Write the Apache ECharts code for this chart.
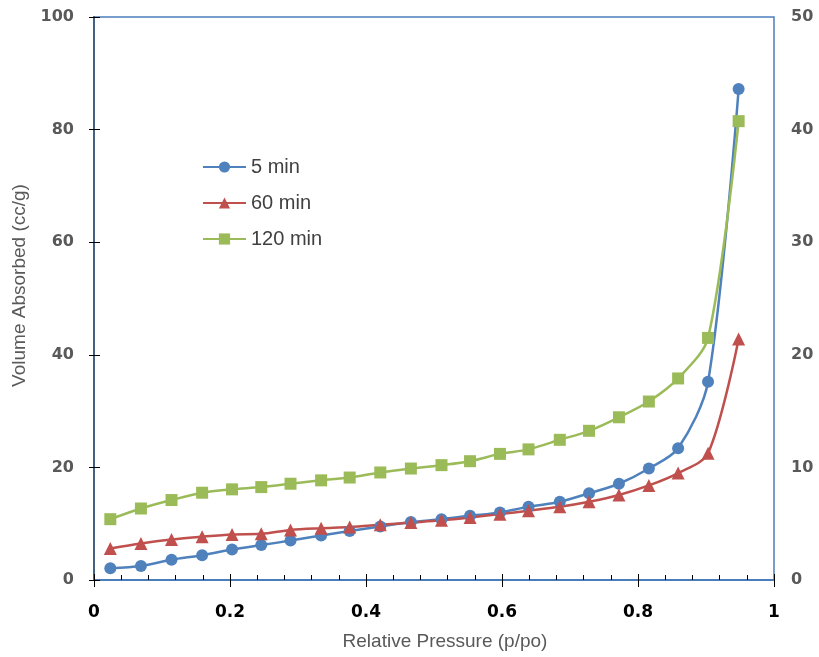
<!DOCTYPE html>
<html>
<head>
<meta charset="utf-8">
<script src="https://cdn.jsdelivr.net/npm/echarts@6/dist/echarts.min.js"></script>
<style>
  html, body { margin: 0; padding: 0; background: #fff; }
  #chart { width: 819px; height: 657px; }
</style>
</head>
<body>
<div id="chart"></div>
<script>
// relative pressure (p/po), shared by all three runs
const pressure = [0.024, 0.069, 0.114, 0.159, 0.203, 0.246, 0.289, 0.334, 0.376, 0.421, 0.466,
  0.511, 0.553, 0.597, 0.639, 0.685, 0.728, 0.772, 0.816, 0.859, 0.903, 0.948]

// volume absorbed (cc/g)
const min5 = [2.1, 2.5, 3.6, 4.4, 5.4, 6.2, 7.0, 7.9, 8.7, 9.5, 10.3,
  10.8, 11.4, 12.0, 13.0, 13.9, 15.4, 17.1, 19.8, 23.4, 35.2, 87.2]
const min60 = [5.6, 6.5, 7.2, 7.7, 8.1, 8.2, 8.9, 9.2, 9.4, 9.8, 10.2,
  10.6, 11.1, 11.7, 12.3, 13.0, 13.9, 15.1, 16.8, 19.0, 22.5, 42.8]
const min120 = [10.8, 12.7, 14.2, 15.5, 16.1, 16.5, 17.1, 17.7, 18.2, 19.1, 19.8,
  20.4, 21.1, 22.4, 23.2, 24.9, 26.5, 28.9, 31.7, 35.8, 43.0, 81.5]

const seriesNames = ['5 min', '60 min', '120 min']

const pairs = (ys) => pressure.map((x, i) => [x, ys[i]])

const chart = echarts.init(document.getElementById('chart'))

const labelStyle = { color: '#595959', fontSize: 16, fontWeight: 'bold', fontFamily: 'DejaVu Sans' }
const nameStyle = { color: '#595959', fontSize: 19, fontFamily: 'Liberation Sans' }

const mkSeries = (name, ys, color, symbol, size) => ({
  name,
  type: 'line',
  data: pairs(ys),
  smooth: 0.3,
  symbol,
  symbolSize: size,
  showSymbol: true,
  lineStyle: { color, width: 2.5 },
  itemStyle: { color },
  emphasis: { disabled: true },
  z: 3,
})

chart.setOption({
  animation: false,
  backgroundColor: '#fff',
  grid: { left: 94, right: 45, top: 17, bottom: 77, show: true, borderColor: '#4a7ebb', borderWidth: 1.5 },
  legend: {
    orient: 'vertical',
    left: 197,
    top: 152,
    itemGap: 16,
    itemWidth: 43,
    itemHeight: 14,
    textStyle: { color: '#404040', fontSize: 20, fontFamily: 'Liberation Sans' },
    data: seriesNames,
  },
  xAxis: [
    {
      type: 'value',
      min: 0,
      max: 1,
      interval: 0.2,
      position: 'bottom',
      name: 'Relative Pressure (p/po)',
      nameLocation: 'middle',
      nameGap: 52,
      nameTextStyle: { ...nameStyle, padding: [0, 0, 0, 22] },
      axisLine: { lineStyle: { color: '#4a7ebb', width: 2 } },
      axisTick: { show: true, inside: true, length: 6, lineStyle: { color: '#000' } },
      minorTick: { show: true, splitNumber: 5, length: 5, lineStyle: { color: '#000' } },
      splitLine: { show: false },
      axisLabel: { ...labelStyle, color: '#000', fontSize: 17, margin: 24, formatter: (v) => String(Math.round(v * 10) / 10) },
    },
    {
      // outward half of the major ticks
      type: 'value',
      min: 0,
      max: 1,
      interval: 0.2,
      position: 'bottom',
      axisLine: { show: false },
      axisTick: { show: true, length: 7, lineStyle: { color: '#000' } },
      axisLabel: { show: false },
      splitLine: { show: false },
    },
  ],
  yAxis: [
    {
      type: 'value',
      min: 0,
      max: 100,
      interval: 20,
      position: 'left',
      name: 'Volume Absorbed (cc/g)',
      nameLocation: 'middle',
      nameGap: 61,
      nameTextStyle: { ...nameStyle, padding: [0, 0, 0, 26] },
      axisLine: { show: true, lineStyle: { color: '#222', width: 1.5 } },
      axisTick: { show: true, length: 5, lineStyle: { color: '#000' } },
      splitLine: { show: false },
      axisLabel: { ...labelStyle, margin: 20 },
    },
    {
      type: 'value',
      min: 0,
      max: 50,
      interval: 10,
      position: 'right',
      axisLine: { show: true, lineStyle: { color: '#4a6d95', width: 1.5 } },
      axisTick: { show: true, length: 6, lineStyle: { color: '#000' } },
      splitLine: { show: false },
      axisLabel: { ...labelStyle, margin: 17 },
    },
  ],
  series: [
    mkSeries('5 min', min5, '#4f81bd', 'circle', 12),
    mkSeries('60 min', min60, '#c0504d', 'triangle', 13),
    mkSeries('120 min', min120, '#9bbb59', 'rect', 12),
  ],
})
</script>
</body>
</html>
